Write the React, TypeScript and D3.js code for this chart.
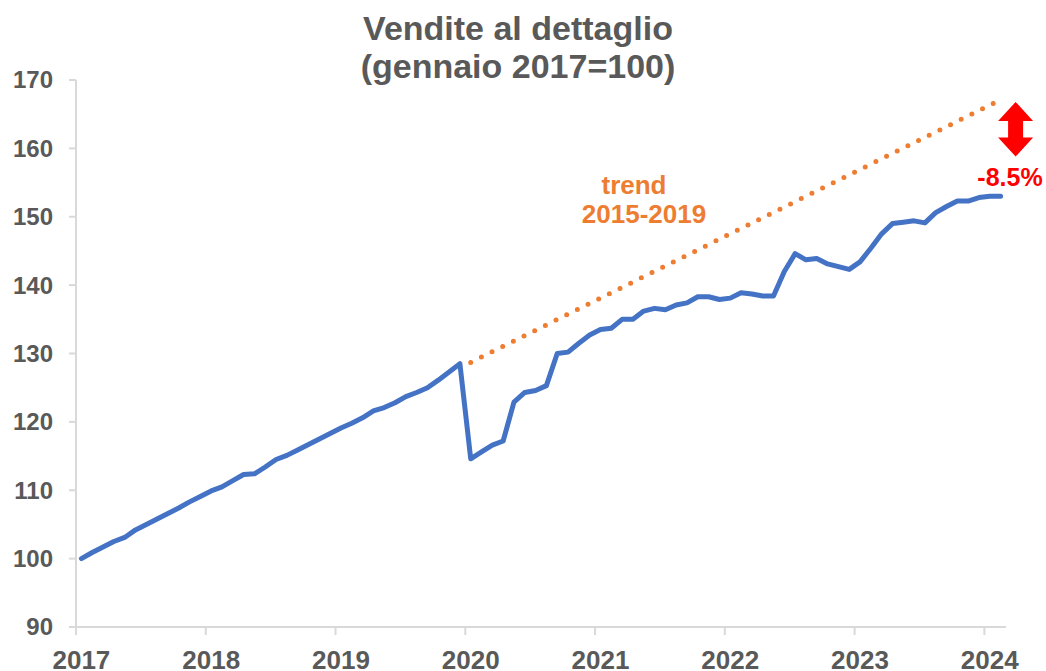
import React from "react";
import * as d3 from "d3";

// Monthly retail sales index, Jan 2017 – Feb 2024 (Jan 2017 = 100)
const years = ["2017", "2018", "2019", "2020", "2021", "2022", "2023", "2024"];
const yTicks = [90, 100, 110, 120, 130, 140, 150, 160, 170];

const sales2017 = [100.0, 100.9, 101.7, 102.5, 103.1, 104.2, 105.0, 105.8, 106.6, 107.4, 108.3, 109.1];
const sales2018 = [109.9, 110.5, 111.4, 112.3, 112.4, 113.4, 114.5, 115.1, 115.9, 116.7, 117.5, 118.3];
const sales2019 = [119.1, 119.8, 120.6, 121.6, 122.1, 122.8, 123.7, 124.3, 125.0, 126.1, 127.3, 128.5];
const sales2020 = [114.6, 115.6, 116.6, 117.2, 122.9, 124.3, 124.6, 125.3, 130.0, 130.2, 131.5, 132.7];
const sales2021 = [133.5, 133.7, 135.0, 135.0, 136.2, 136.6, 136.4, 137.1, 137.4, 138.3, 138.3, 137.9];
const sales2022 = [138.1, 138.9, 138.7, 138.4, 138.4, 142.0, 144.6, 143.7, 143.9, 143.1, 142.7, 142.3];
const sales2023 = [143.4, 145.4, 147.5, 149.0, 149.2, 149.4, 149.1, 150.6, 151.5, 152.3, 152.3, 152.8];
const sales2024 = [153.0, 153.0];

const sales = [
  ...sales2017, ...sales2018, ...sales2019, ...sales2020,
  ...sales2021, ...sales2022, ...sales2023, ...sales2024,
];

// Pre-pandemic trend (2015-2019) extended: month index and value at ends
const trendMonths = [36, 85];
const trendValues = [128.7, 167.1];

// annotation: gap arrow range (index values)
const gapArrow = [166.8, 158.8];

const W = 1046;
const H = 671;
const FONT = "'Liberation Sans', Arial, Helvetica, sans-serif";
const GRAY = "#595959";
const AXIS = "#D9D9D9";
const BLUE = "#4472C4";
const ORANGE = "#ED7D31";
const RED = "#FF0000";

export default function App() {
  const nMonths = sales.length; // 86
  const x = d3.scaleLinear().domain([0, nMonths]).range([76, 1006]);
  const y = d3.scaleLinear().domain([90, 170]).range([627, 80]);
  const cx = (i: number) => x(i + 0.5);

  const line = d3
    .line<number>()
    .x((_, i) => cx(i))
    .y((d) => y(d));

  const trendPath = d3
    .line<number>()
    .x((_, i) => cx(trendMonths[i]))
    .y((d) => y(d))(trendValues);

  // arrow geometry
  const ax = cx(nMonths - 1) + 15;
  const aTop = y(gapArrow[0]);
  const aBot = y(gapArrow[1]);
  const hw = 17.5;
  const sw = 7.5;
  const hl = 19;
  const arrowPts = [
    [ax, aTop],
    [ax + hw, aTop + hl],
    [ax + sw, aTop + hl],
    [ax + sw, aBot - hl],
    [ax + hw, aBot - hl],
    [ax, aBot],
    [ax - hw, aBot - hl],
    [ax - sw, aBot - hl],
    [ax - sw, aTop + hl],
    [ax - hw, aTop + hl],
  ]
    .map((p) => p.join(","))
    .join(" ");

  return (
    <svg
      width={W}
      height={H}
      style={{ position: "absolute", left: 0, top: 0, background: "#fff" }}
      fontFamily={FONT}
    >
      <rect x={0} y={0} width={W} height={H} fill="#fff" />
      {/* title */}
      <text x={518} y={40} textAnchor="middle" fontSize={34} fontWeight="bold" fill={GRAY}>
        Vendite al dettaglio
      </text>
      <text x={518} y={78} textAnchor="middle" fontSize={34} fontWeight="bold" fill={GRAY}>
        (gennaio 2017=100)
      </text>

      {/* y axis */}
      <line x1={x(0)} x2={x(0)} y1={y(170)} y2={y(90)} stroke={AXIS} strokeWidth={2} />
      {yTicks.map((t) => (
        <g key={t}>
          <line x1={x(0) - 7} x2={x(0)} y1={y(t)} y2={y(t)} stroke={AXIS} strokeWidth={2} />
          <text
            x={53}
            y={y(t)}
            dy="0.35em"
            textAnchor="end"
            fontSize={24}
            fontWeight="bold"
            fill={GRAY}
          >
            {t}
          </text>
        </g>
      ))}

      {/* x axis */}
      <line x1={x(0) - 7} x2={x(nMonths)} y1={y(90)} y2={y(90)} stroke={AXIS} strokeWidth={2} />
      {years.map((yr, k) => (
        <g key={yr}>
          <line x1={x(k * 12)} x2={x(k * 12)} y1={y(90)} y2={y(90) + 8} stroke={AXIS} strokeWidth={2} />
          <text
            x={cx(k * 12)}
            y={669}
            textAnchor="middle"
            fontSize={26}
            fontWeight="bold"
            fill={GRAY}
          >
            {yr}
          </text>
        </g>
      ))}

      {/* trend line */}
      <path
        d={trendPath || ""}
        fill="none"
        stroke={ORANGE}
        strokeWidth={5}
        strokeLinecap="round"
        strokeDasharray="0 11.9"
      />

      {/* sales line */}
      <path
        d={line(sales) || ""}
        fill="none"
        stroke={BLUE}
        strokeWidth={5}
        strokeLinejoin="round"
        strokeLinecap="round"
      />

      {/* annotations */}
      <text x={634} y={194} textAnchor="middle" fontSize={26} fontWeight="bold" fill={ORANGE}>
        trend
      </text>
      <text x={644} y={223} textAnchor="middle" fontSize={26} fontWeight="bold" fill={ORANGE}>
        2015-2019
      </text>
      <polygon points={arrowPts} fill={RED} />
      <text x={1010} y={186} textAnchor="middle" fontSize={25} fontWeight="bold" fill={RED}>
        -8.5%
      </text>
    </svg>
  );
}
